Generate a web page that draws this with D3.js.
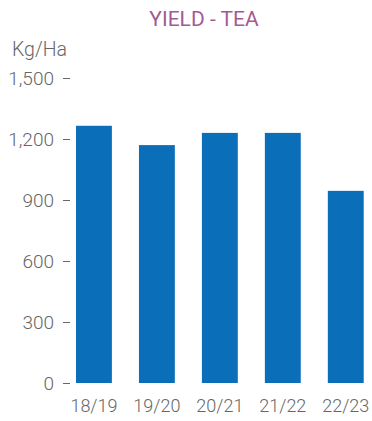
<!DOCTYPE html>
<html><head><meta charset="utf-8">
<script src="https://cdn.jsdelivr.net/npm/d3@7"></script>
<style>body{margin:0;background:#fff}svg{display:block}text{font-family:Roboto,sans-serif}</style>
</head><body><svg id="c" width="372" height="421"></svg>
<script>
const categories = ["18/19","19/20","20/21","21/22","22/23"];
const values = [1265, 1170, 1230, 1230, 945];
const yTicks = [0, 300, 600, 900, 1200, 1500];
const title = "YIELD - TEA";
const unit = "Kg/Ha";

const svg = d3.select("#c");
const x = d3.scaleBand().domain(categories).range([69.7, 370]).paddingInner(0.43).paddingOuter(0.1);
const y = d3.scaleLinear().domain([0, 1500]).range([383, 78]);

svg.append("text").attr("x", 204).attr("y", 26).attr("text-anchor","middle")
  .attr("fill","#A35A94").attr("font-size",21).attr("font-weight",400).text(title);
svg.append("text").attr("x", 12).attr("y", 56).attr("fill","#666")
  .attr("font-size",19.5).attr("font-weight",300).text(unit);

svg.selectAll("rect.bar").data(values).join("rect").attr("class","bar")
  .attr("x",(d,i)=>x(categories[i])).attr("width",x.bandwidth())
  .attr("y",d=>y(d)).attr("height",d=>y(0)-y(d)).attr("fill","#0A6FB8");

const yAxis = svg.append("g").attr("transform","translate(70,0)")
  .call(d3.axisLeft(y).tickValues(yTicks).tickSize(7).tickPadding(9).tickFormat(d3.format(",")));
yAxis.select(".domain").remove();
yAxis.selectAll("line").attr("stroke","#666");
yAxis.selectAll("text").attr("fill","#666").attr("font-size",19).attr("font-weight",300)
  .attr("font-family","Roboto,sans-serif");

const xAxis = svg.append("g").attr("transform","translate(0,383)")
  .call(d3.axisBottom(x).tickSize(0).tickPadding(16));
xAxis.select(".domain").remove();
xAxis.selectAll("text").attr("fill","#666").attr("font-size",18).attr("font-weight",300)
  .attr("font-family","Roboto,sans-serif");
</script></body></html>
